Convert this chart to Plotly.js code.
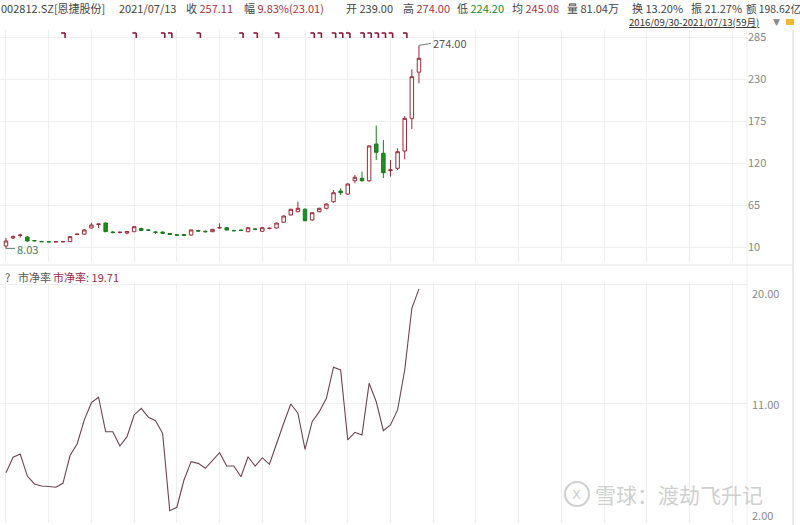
<!DOCTYPE html>
<html><head><meta charset="utf-8">
<script src="https://cdn.plot.ly/plotly-3.0.1.min.js"></script>
<style>html,body{margin:0;padding:0;background:#fff}#chart{width:800px;height:525px}</style>
</head><body><div id="chart"></div>
<script>
// ---- data ----
const months = ["2016/09","2016/10","2016/11","2016/12",
 "2017/01","2017/02","2017/03","2017/04","2017/05","2017/06","2017/07","2017/08","2017/09","2017/10","2017/11","2017/12",
 "2018/01","2018/02","2018/03","2018/04","2018/05","2018/06","2018/07","2018/08","2018/09","2018/10","2018/11","2018/12",
 "2019/01","2019/02","2019/03","2019/04","2019/05","2019/06","2019/07","2019/08","2019/09","2019/10","2019/11","2019/12",
 "2020/01","2020/02","2020/03","2020/04","2020/05","2020/06","2020/07","2020/08","2020/09","2020/10","2020/11","2020/12",
 "2021/01","2021/02","2021/03","2021/04","2021/05","2021/06","2021/07"];
const openP  = [11.3,21.8,25.1,23.1,18.5,17.2,16.9,16.8,16.9,17.0,26.4,26.8,34.9,39.5,41.4,29.6,29.0,28.3,30.0,34.2,
 32.3,29.6,29.6,27.7,25.9,26.4,25.7,31.6,30.6,30.0,35.0,35.3,31.6,32.3,30.0,33.6,30.6,34.2,34.9,42.4,
 51.9,56.2,59.4,45.4,56.2,60.7,69.3,83.3,79.4,96.8,100.0,96.8,144.9,132.7,110.0,113.1,135.7,178.5,239.00];
const highP  = [21.8,25.1,27.7,24.4,19.2,17.6,17.3,17.2,17.4,24.4,27.7,33.6,41.8,40.4,42.1,31.0,30.6,30.6,37.5,35.3,
 33.2,30.6,30.3,28.3,26.8,27.0,33.0,32.6,31.6,33.6,41.0,36.0,32.6,32.9,35.9,34.9,36.2,35.3,41.8,51.3,
 60.0,69.3,60.7,55.5,61.3,67.0,84.6,86.9,93.4,104.3,108.6,143.5,169.1,150.1,123.9,139.3,181.5,242.7,274.00];
const lowP   = [8.03,20.5,22.4,16.6,17.2,16.5,16.4,16.3,16.5,16.6,25.7,26.4,34.2,34.9,29.6,27.7,27.7,26.4,29.6,30.9,
 31.0,27.0,27.7,25.7,24.8,24.4,25.1,29.6,29.0,29.6,34.2,31.6,30.6,31.0,29.6,32.3,30.0,33.2,34.2,41.4,
 51.3,55.5,43.8,44.4,55.5,59.4,68.0,78.1,78.1,93.4,95.5,95.5,123.9,100.4,102.1,110.8,124.9,164.5,224.20];
const closeP = [17.9,23.5,25.5,17.9,18.1,16.9,16.8,16.9,17.0,23.5,26.8,32.3,38.8,40.1,30.0,29.0,29.3,30.3,36.6,31.6,
 32.0,29.3,28.0,26.4,25.5,25.1,32.3,30.9,30.0,33.2,35.3,32.3,31.3,31.6,35.3,33.2,35.3,34.6,41.4,50.6,
 59.4,60.7,44.4,54.9,60.7,66.3,81.1,81.1,92.5,101.3,96.8,142.3,134.0,107.3,111.0,134.8,178.5,233.0,257.11];
const pbRatio = [5.80,6.97,7.22,5.55,4.95,4.80,4.76,4.70,5.00,7.10,8.00,9.80,11.10,11.51,8.90,8.90,7.82,8.53,10.17,10.67,
 9.99,9.74,8.78,2.93,3.19,5.25,6.64,6.51,6.14,6.76,7.32,6.31,6.31,5.50,7.01,6.31,6.94,6.44,8.03,9.54,
 11.00,10.30,7.57,9.66,10.42,11.43,13.78,13.57,8.28,8.86,8.66,12.57,11.17,8.98,9.41,10.55,13.57,18.24,19.71];
const eventIdx = [8,18,22,23,27,33,35,38,43,44,46,47,48,50,51,52,53,54,56];
const priceTicks = [10,65,120,175,230,285];
const pbTicks = [2,11,20];
const pbTickText = ["2.00","11.00","20.00"];

// ---- helpers for decoration placement (pixels -> paper) ----
const W = 800, H = 525;
const px = x => x / W, py = y => 1 - y / H;
const xIdx = months.map((m, i) => i);
const FONT = "Noto Sans CJK SC, Noto Sans, sans-serif";
const RED = "#a8323f", GREEN = "#23862a", GREY = "#444";

const traces = [
  {type: "candlestick", x: xIdx, open: openP, high: highP, low: lowP, close: closeP,
   text: months, xaxis: "x", yaxis: "y", whiskerwidth: 0,
   increasing: {line: {color: "#9a2a38", width: 1}, fillcolor: "#ffffff"},
   decreasing: {line: {color: "#1c7a20", width: 1}, fillcolor: "#1f8f25"}},
  {type: "scatter", mode: "lines", x: xIdx, y: pbRatio, text: months, xaxis: "x2", yaxis: "y2",
   line: {color: "#6e4452", width: 1.1}}
];

const ann = [];
function txt(x, y, t, opts) {
  ann.push(Object.assign({xref: "paper", yref: "paper", x: px(x), y: py(y), text: t,
    showarrow: false, xanchor: "left", yanchor: "middle", borderpad: 0,
    font: {family: FONT, size: 11, color: GREY}}, opts || {}));
}
const r = s => '<span style="color:' + RED + '">' + s + '</span>';
const g = s => '<span style="color:' + GREEN + '">' + s + '</span>';
// header row: boxes of fixed height, hung from the top edge
const hdr = {yanchor: "top", height: 14};
txt(0, 0, "002812.SZ[恩捷股份]", hdr);
txt(118, 0, "2021/07/13", hdr);
txt(185, 0, "收 " + r("257.11"), hdr);
txt(243, 0, "幅 " + r("9.83%(23.01)"), hdr);
txt(345, 0, "开 239.00", hdr);
txt(402, 0, "高 " + r("274.00"), hdr);
txt(456, 0, "低 " + g("224.20"), hdr);
txt(511, 0, "均 " + r("245.08"), hdr);
txt(566, 0, "量 81.04万", hdr);
txt(631, 0, "换 13.20%", hdr);
txt(690, 0, "振 21.27%", hdr);
txt(745, 0, "额 198.62亿", Object.assign({}, hdr, {font: {family: FONT, size: 10.4, color: GREY}}));
txt(628, 22, "<u>2016/09/30-2021/07/13(59月)</u>", {font: {family: FONT, size: 9.6, color: "#333"}});
txt(772, 22, "▼", {font: {family: "DejaVu Sans", size: 9, color: "#888"}});
// lower panel header
txt(4, 277, "?", {font: {family: FONT, size: 11, color: "#555"}});
txt(17, 277, "市净率", {font: {family: FONT, size: 11, color: "#555"}});
txt(52, 277, "市净率: 19.71", {font: {family: FONT, size: 11, color: "#9a2a48"}});
// watermark
txt(594, 494, "雪球：渡劫飞升记", {font: {family: FONT, size: 21, color: "#cfcfcf"}});
txt(571, 494, "X", {font: {family: "DejaVu Sans", size: 13, color: "#cfcfcf"}});

// callouts
ann.push({xref: "x", yref: "y", x: xIdx[58], y: highP[58], text: "274.00", showarrow: true,
  arrowhead: 0, arrowwidth: 1, arrowcolor: "#777", ax: 12, ay: -2, xanchor: "left", yanchor: "middle",
  font: {family: FONT, size: 11, color: "#555"}});
ann.push({xref: "x", yref: "y", x: xIdx[0], y: lowP[0], text: "8.03", showarrow: true,
  arrowhead: 0, arrowwidth: 1, arrowcolor: "#5f8f75", ax: 9, ay: 0, xanchor: "left", yanchor: "middle",
  font: {family: FONT, size: 11, color: "#3f7f5f"}});
// lower axis labels
pbTicks.forEach((v, k) => ann.push({xref: "paper", yref: "y2", x: px(750), y: v, text: pbTickText[k],
  showarrow: false, xanchor: "left", yanchor: "middle", yshift: v === 20 ? -8 : (v === 2 ? 8 : 0),
  font: {family: FONT, size: 11, color: "#888"}}));

const shapes = [
  {type: "line", xref: "paper", yref: "paper", x0: px(793), x1: px(793), y0: 0, y1: py(30), line: {color: "#d6d6d6", width: 1}},
  {type: "line", xref: "paper", yref: "paper", x0: px(747), x1: px(747), y0: 0, y1: py(30), line: {color: "#efefef", width: 1}},
  {type: "line", xref: "paper", yref: "paper", x0: 0, x1: px(793), y0: py(265), y1: py(265), line: {color: "#e4e4e4", width: 1}},
  {type: "circle", xref: "paper", yref: "paper", x0: px(565), x1: px(589), y0: py(506), y1: py(482), line: {color: "#cfcfcf", width: 2}},
  {type: "rect", xref: "paper", yref: "paper", x0: px(786), x1: px(794), y0: py(25), y1: py(19), fillcolor: "#f2b632", line: {width: 0}}
];
// event markers (small "ㄱ" flags) along the top of the price panel
eventIdx.forEach(i => {
  shapes.push({type: "line", xref: "x", yref: "paper", x0: i - 0.25, x1: i + 0.3, y0: py(33), y1: py(33),
    line: {color: "#8b1a3a", width: 1.6}});
  shapes.push({type: "line", xref: "x", yref: "paper", x0: i + 0.3, x1: i + 0.3, y0: py(33), y1: py(38),
    line: {color: "#8b1a3a", width: 1.6}});
});

const axX = {range: [-0.84, 104.07], tickmode: "linear", tick0: 0, dtick: 6, showticklabels: false, ticks: "",
  showgrid: true, gridcolor: "#efefef", zeroline: false, showline: false, fixedrange: true};
const layout = {
  width: W, height: H, margin: {l: 0, r: 0, t: 0, b: 0},
  paper_bgcolor: "#fff", plot_bgcolor: "#fff", showlegend: false,
  font: {family: FONT},
  xaxis: Object.assign({}, axX, {domain: [0, px(747)], anchor: "y", rangeslider: {visible: false}}),
  xaxis2: Object.assign({}, axX, {domain: [0, px(747)], anchor: "y2", matches: "x"}),
  yaxis: {domain: [py(262), py(30)], range: [-9.64, 294.2], side: "right", anchor: "x",
    tickmode: "array", tickvals: priceTicks, ticks: "", tickfont: {family: FONT, size: 11, color: "#888"},
    showgrid: true, gridcolor: "#efefef", zeroline: false, fixedrange: true},
  yaxis2: {domain: [py(523), py(283)], range: [2.0, 20.15], side: "right", anchor: "x2",
    tickmode: "array", tickvals: pbTicks, showticklabels: false, ticks: "",
    showgrid: true, gridcolor: "#efefef", zeroline: false, fixedrange: true},
  annotations: ann, shapes: shapes
};
Plotly.newPlot("chart", traces, layout, {displayModeBar: false, staticPlot: true});
</script></body></html>
